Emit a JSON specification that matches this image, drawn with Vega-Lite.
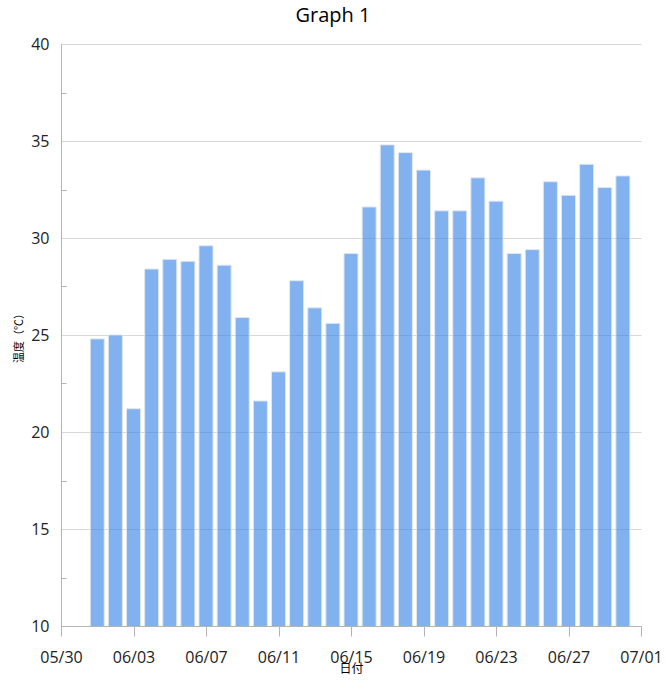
{
  "$schema": "https://vega.github.io/schema/vega-lite/v6.json",
  "width": 580,
  "height": 582,
  "autosize": {"type": "none"},
  "padding": {"left": 61, "top": 44, "right": 27, "bottom": 68},
  "background": "white",
  "config": {
    "font": "Open Sans",
    "view": {"stroke": null}
  },
  "title": {
    "text": "Graph 1",
    "fontSize": 20,
    "fontWeight": "normal",
    "font": "Open Sans",
    "color": "#000000",
    "offset": 10,
    "dx": -18
  },
  "data": {
    "values": [
      {"date": "2023-06-01", "temp": 24.8},
      {"date": "2023-06-02", "temp": 25.0},
      {"date": "2023-06-03", "temp": 21.2},
      {"date": "2023-06-04", "temp": 28.4},
      {"date": "2023-06-05", "temp": 28.9},
      {"date": "2023-06-06", "temp": 28.8},
      {"date": "2023-06-07", "temp": 29.6},
      {"date": "2023-06-08", "temp": 28.6},
      {"date": "2023-06-09", "temp": 25.9},
      {"date": "2023-06-10", "temp": 21.6},
      {"date": "2023-06-11", "temp": 23.1},
      {"date": "2023-06-12", "temp": 27.8},
      {"date": "2023-06-13", "temp": 26.4},
      {"date": "2023-06-14", "temp": 25.6},
      {"date": "2023-06-15", "temp": 29.2},
      {"date": "2023-06-16", "temp": 31.6},
      {"date": "2023-06-17", "temp": 34.8},
      {"date": "2023-06-18", "temp": 34.4},
      {"date": "2023-06-19", "temp": 33.5},
      {"date": "2023-06-20", "temp": 31.4},
      {"date": "2023-06-21", "temp": 31.4},
      {"date": "2023-06-22", "temp": 33.1},
      {"date": "2023-06-23", "temp": 31.9},
      {"date": "2023-06-24", "temp": 29.2},
      {"date": "2023-06-25", "temp": 29.4},
      {"date": "2023-06-26", "temp": 32.9},
      {"date": "2023-06-27", "temp": 32.2},
      {"date": "2023-06-28", "temp": 33.8},
      {"date": "2023-06-29", "temp": 32.6},
      {"date": "2023-06-30", "temp": 33.2}
    ]
  },
  "mark": {
    "type": "bar",
    "size": 14,
    "clip": true,
    "fill": "#3f87e6",
    "fillOpacity": 0.65,
    "stroke": "#dfe6ef",
    "strokeWidth": 1
  },
  "encoding": {
    "x": {
      "field": "date",
      "type": "temporal",
      "title": "日付",
      "scale": {
        "type": "utc",
        "padding": 0,
        "domain": [
          {"year": 2023, "month": 5, "date": 30, "utc": true},
          {"year": 2023, "month": 7, "date": 1, "utc": true}
        ]
      },
      "axis": {
        "values": [
          {"year": 2023, "month": 5, "date": 30, "utc": true},
          {"year": 2023, "month": 6, "date": 3, "utc": true},
          {"year": 2023, "month": 6, "date": 7, "utc": true},
          {"year": 2023, "month": 6, "date": 11, "utc": true},
          {"year": 2023, "month": 6, "date": 15, "utc": true},
          {"year": 2023, "month": 6, "date": 19, "utc": true},
          {"year": 2023, "month": 6, "date": 23, "utc": true},
          {"year": 2023, "month": 6, "date": 27, "utc": true},
          {"year": 2023, "month": 7, "date": 1, "utc": true}
        ],
        "format": "%m/%d",
        "grid": false,
        "domainColor": "#b4b4b4",
        "tickColor": "#b4b4b4",
        "tickSize": 10,
        "labelFontSize": 16,
        "labelColor": "#222222",
        "labelPadding": 13,
        "labelFlush": false,
        "labelOverlap": false,
        "titleFont": "Noto Sans CJK JP",
        "titleFontSize": 12,
        "titleFontWeight": "normal",
        "titleColor": "#000000",
        "titlePadding": -2
      }
    },
    "y": {
      "field": "temp",
      "type": "quantitative",
      "title": "温度（℃）",
      "scale": {"domain": [10, 40], "nice": false, "zero": false},
      "axis": {
        "values": [10, 12.5, 15, 17.5, 20, 22.5, 25, 27.5, 30, 32.5, 35, 37.5, 40],
        "labelExpr": "datum.value % 5 === 0 ? datum.label : ''",
        "gridColor": "#d8d8d8",
        "gridOpacity": {"condition": {"test": "datum.value % 5 !== 0", "value": 0}, "value": 1},
        "domainColor": "#b4b4b4",
        "tickColor": "#b4b4b4",
        "tickSize": {"condition": {"test": "datum.value % 5 !== 0", "value": -5}, "value": 0},
        "labelFontSize": 16,
        "labelColor": "#222222",
        "labelPadding": 12,
        "titleFont": "Noto Sans CJK JP",
        "titleFontSize": 11,
        "titleFontWeight": "normal",
        "titleColor": "#000000",
        "titlePadding": 6
      }
    }
  }
}
